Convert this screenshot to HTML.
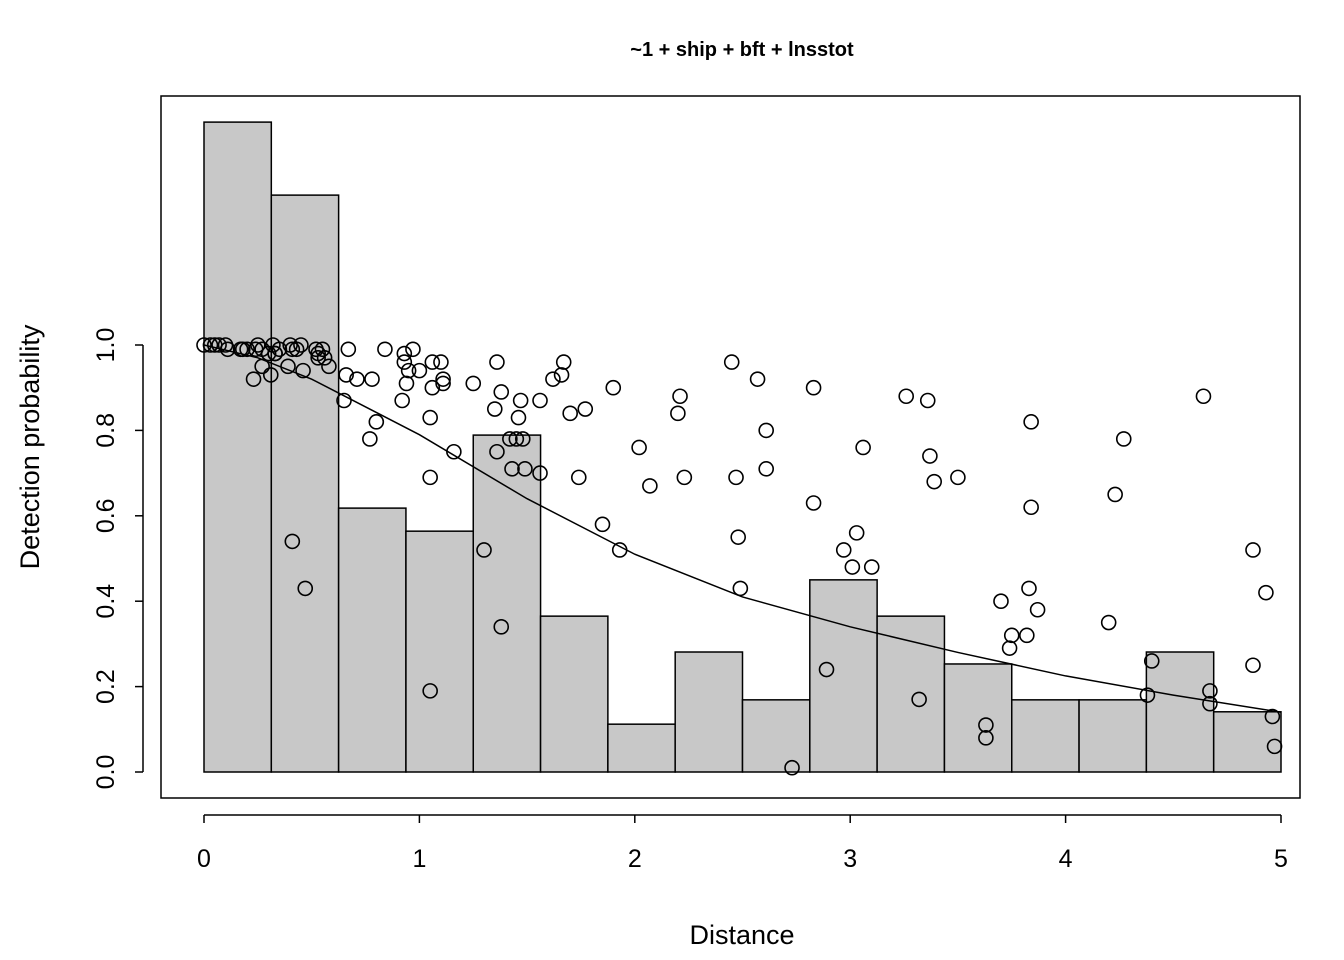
<!DOCTYPE html>
<html><head><meta charset="utf-8"><style>
body{margin:0;background:#fff}
svg{display:block;font-family:"Liberation Sans",Arial,sans-serif}
</style></head><body>
<svg id="chart" width="1344" height="960" viewBox="0 0 1344 960">
<rect x="0" y="0" width="1344" height="960" fill="#fff"/>
<text x="742" y="56" text-anchor="middle" font-size="20" font-weight="bold">~1 + ship + bft + lnsstot</text>
<text x="742" y="944" text-anchor="middle" font-size="27">Distance</text>
<text transform="translate(39,447) rotate(-90)" text-anchor="middle" font-size="27">Detection probability</text>
<g id="bars"></g>
<g id="curve"></g>
<g id="pts"></g>
<g id="axes"></g>
<rect x="161" y="96" width="1139" height="702" fill="none" stroke="#000" stroke-width="1.5"/>
</svg>
<script>
const binHeights=[1.522,1.351,0.618,0.564,0.789,0.365,0.112,0.281,0.169,0.450,0.365,0.253,0.169,0.169,0.281,0.141];
const curveX=[0,0.25,0.5,1,1.5,2,2.5,3,3.5,4,4.5,5];
const curveY=[1,0.97,0.92,0.79,0.64,0.51,0.41,0.34,0.28,0.225,0.18,0.14];
const xTicks=[0,1,2,3,4,5];
const yTicks=[0,0.2,0.4,0.6,0.8,1.0];
const yTickLabels=["0.0","0.2","0.4","0.6","0.8","1.0"];
const ptX=[0,0.03,0.05,0.07,0.1,0.11,0.17,0.18,0.2,0.24,0.25,0.27,0.3,0.32,0.33,0.35,0.4,0.41,0.43,0.45,0.52,0.53,0.55,0.56,
0.23,0.27,0.31,0.33,0.39,0.46,0.53,0.58,0.65,0.66,0.67,0.71,0.78,0.80,0.77,0.84,0.93,0.93,0.94,0.92,0.95,0.97,1.00,1.06,1.06,1.05,1.10,1.11,1.11,1.05,1.16,1.25,1.35,1.36,1.38,1.42,1.45,1.47,1.46,1.48,1.49,1.43,1.56,1.56,1.62,1.66,1.67,1.70,1.74,1.77,1.85,1.90,1.93,2.02,2.07,2.21,2.20,2.23,2.45,2.47,2.48,2.49,2.57,2.61,2.61,2.83,2.83,2.89,2.97,3.03,3.01,3.06,3.10,3.26,3.36,3.37,3.39,3.50,3.32,3.63,3.63,3.70,3.74,3.75,3.82,3.83,3.84,3.84,3.87,4.20,4.23,4.27,4.40,4.38,4.67,4.67,4.64,4.87,4.93,4.87,4.96,4.97,2.73,0.41,0.47,1.38,1.05,1.30,1.36];
const ptY=[1,1,1,1,1,0.99,0.99,0.99,0.99,0.99,1,0.99,0.98,1,0.98,0.99,1,0.99,0.99,1,0.99,0.98,0.99,0.97,
0.92,0.95,0.93,0.98,0.95,0.94,0.97,0.95,0.87,0.93,0.99,0.92,0.92,0.82,0.78,0.99,0.98,0.96,0.91,0.87,0.94,0.99,0.94,0.96,0.90,0.83,0.96,0.92,0.91,0.69,0.75,0.91,0.85,0.96,0.89,0.78,0.78,0.87,0.83,0.78,0.71,0.71,0.70,0.87,0.92,0.93,0.96,0.84,0.69,0.85,0.58,0.90,0.52,0.76,0.67,0.88,0.84,0.69,0.96,0.69,0.55,0.43,0.92,0.80,0.71,0.90,0.63,0.24,0.52,0.56,0.48,0.76,0.48,0.88,0.87,0.74,0.68,0.69,0.17,0.11,0.08,0.40,0.29,0.32,0.32,0.43,0.82,0.62,0.38,0.35,0.65,0.78,0.26,0.18,0.19,0.16,0.88,0.52,0.42,0.25,0.13,0.06,0.01,0.54,0.43,0.34,0.19,0.52,0.75];
const NS="http://www.w3.org/2000/svg";
const X=v=>204+v*215.4, Y=v=>772-v*427;
function mk(tag,attrs,parent){const e=document.createElementNS(NS,tag);for(const k in attrs)e.setAttribute(k,attrs[k]);parent.appendChild(e);return e;}
const bars=document.getElementById('bars');
const bw=5/binHeights.length;
binHeights.forEach((h,i)=>{
  const r=mk('rect',{x:X(i*bw),y:Y(h),width:X((i+1)*bw)-X(i*bw),height:Y(0)-Y(h),fill:'#c8c8c8',stroke:'#000','stroke-width':1.5},bars);
  
  
});
const cg=document.getElementById('curve');
const p=mk('path',{d:curveX.map((x,i)=>(i?'L':'M')+X(x)+','+Y(curveY[i])).join(' '),fill:'none',stroke:'#000','stroke-width':1.5},cg);


const pg=document.getElementById('pts');
ptX.forEach((x,i)=>{
  const c=mk('circle',{cx:X(x),cy:Y(ptY[i]),r:7,fill:'none',stroke:'#000','stroke-width':1.6},pg);
  
  
});
const ax=document.getElementById('axes');
const xl=mk('line',{x1:X(0),x2:X(5),y1:815,y2:815,stroke:'#000','stroke-width':1.5},ax);


xTicks.forEach(t=>{
  mk('line',{x1:X(t),x2:X(t),y1:815,y2:823,stroke:'#000','stroke-width':1.5},ax);
  const tx=mk('text',{x:X(t),y:867,'text-anchor':'middle','font-size':25},ax);
  tx.textContent=t;
  
  
});
const yl=mk('line',{x1:143,x2:143,y1:Y(0),y2:Y(1),stroke:'#000','stroke-width':1.5},ax);


yTicks.forEach((t,i)=>{
  mk('line',{x1:135,x2:143,y1:Y(t),y2:Y(t),stroke:'#000','stroke-width':1.5},ax);
  const tx=mk('text',{transform:`translate(114,${Y(t)}) rotate(-90)`,'text-anchor':'middle','font-size':25},ax);
  tx.textContent=yTickLabels[i];
  
  
});
</script>
</body></html>
